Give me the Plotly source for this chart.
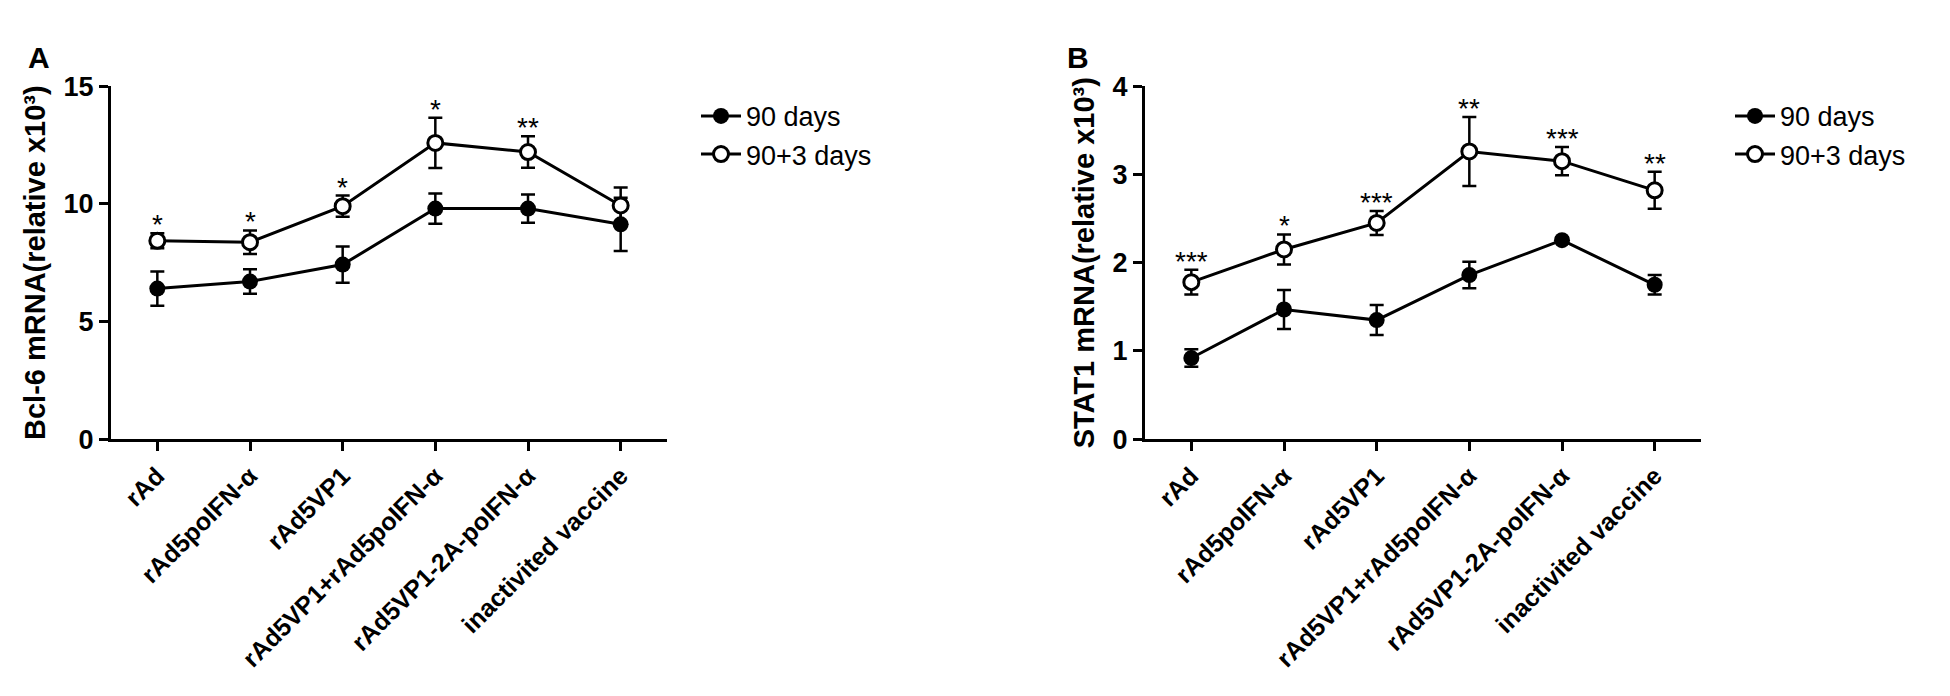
import plotly.graph_objects as go

groups = ["rAd", "rAd5poIFN-α", "rAd5VP1", "rAd5VP1+rAd5poIFN-α",
          "rAd5VP1-2A-poIFN-α", "inactivited vaccine"]

# panel A: Bcl-6
bcl6_90 = [6.4, 6.7, 7.42, 9.8, 9.8, 9.13]
bcl6_90_err = [0.73, 0.52, 0.77, 0.64, 0.6, 1.13]
bcl6_93 = [8.43, 8.37, 9.9, 12.59, 12.2, 9.93]
bcl6_93_err = [0.32, 0.5, 0.45, 1.07, 0.67, 0.76]
bcl6_stars = ["*", "*", "*", "*", "**", ""]

# panel B: STAT1
stat1_90 = [0.92, 1.47, 1.35, 1.86, 2.255, 1.75]
stat1_90_err = [0.1, 0.22, 0.17, 0.15, 0.03, 0.11]
stat1_93 = [1.78, 2.15, 2.45, 3.26, 3.15, 2.82]
stat1_93_err = [0.14, 0.17, 0.135, 0.39, 0.16, 0.21]
stat1_stars = ["***", "*", "***", "**", "***", "**"]

FONT = "Arial, Liberation Sans, sans-serif"
W, H = 1950, 696

fig = go.Figure()


def add_panel(xa, ya, leg, y90, e90, y93, e93):
    xs = list(range(len(groups)))
    fig.add_trace(go.Scatter(
        x=xs, y=y90, name="90 days", mode="lines+markers",
        xaxis=xa, yaxis=ya, legend=leg,
        line=dict(color="black", width=3),
        marker=dict(symbol="circle", size=16, color="black"),
        error_y=dict(type="data", array=e90, color="black", thickness=2.5, width=7),
    ))
    fig.add_trace(go.Scatter(
        x=xs, y=y93, name="90+3 days", mode="lines+markers",
        xaxis=xa, yaxis=ya, legend=leg,
        line=dict(color="black", width=3),
        marker=dict(symbol="circle", size=15, color="white",
                    line=dict(color="black", width=3)),
        error_y=dict(type="data", array=e93, color="black", thickness=2.5, width=7),
    ))


add_panel("x", "y", "legend", bcl6_90, bcl6_90_err, bcl6_93, bcl6_93_err)
add_panel("x2", "y2", "legend2", stat1_90, stat1_90_err, stat1_93, stat1_93_err)

# significance marks above the upper error bar
for xa, ya, vals, errs, stars in [("x", "y", bcl6_93, bcl6_93_err, bcl6_stars),
                                  ("x2", "y2", stat1_93, stat1_93_err, stat1_stars)]:
    for i, s in enumerate(stars):
        if s:
            fig.add_annotation(x=i, y=vals[i] + errs[i], xref=xa, yref=ya,
                               text=s, showarrow=False, yanchor="bottom",
                               yshift=-9, font=dict(size=28, color="black"))

xcommon = dict(
    range=[-0.5, 5.5], tickmode="array", tickvals=list(range(len(groups))),
    ticktext=groups, tickangle=-45, showline=True, linecolor="black",
    linewidth=3, ticks="outside", ticklen=9, tickwidth=3, tickcolor="black",
    showgrid=False, zeroline=False,
    tickfont=dict(family=FONT, size=25, color="black", weight="bold"),
)
ycommon = dict(
    showline=True, linecolor="black", linewidth=3, ticks="outside",
    ticklen=9, tickwidth=3, tickcolor="black", showgrid=False, zeroline=False,
    tickfont=dict(family=FONT, size=27, color="black", weight="bold"),
)

ydom = [1 - 435 / H, 1 - 66 / H]
fig.update_layout(
    width=W, height=H, margin=dict(l=0, r=0, t=0, b=0),
    plot_bgcolor="white", paper_bgcolor="white",
    font=dict(family=FONT, color="black"),
    xaxis=dict(domain=[103 / W, 659 / W], anchor="y", **xcommon),
    yaxis=dict(domain=ydom, anchor="x", range=[0, 15], tickvals=[0, 5, 10, 15],
               title=dict(text="Bcl-6 mRNA(relative x10³)", standoff=10,
                          font=dict(family=FONT, size=29, weight="bold")),
               **ycommon),
    xaxis2=dict(domain=[1137 / W, 1693 / W], anchor="y2", **xcommon),
    yaxis2=dict(domain=ydom, anchor="x2", range=[0, 4], tickvals=[0, 1, 2, 3, 4],
                title=dict(text="STAT1 mRNA(relative x10³)", standoff=10,
                           font=dict(family=FONT, size=29, weight="bold")),
                **ycommon),
    legend=dict(x=688 / W, y=1 - 72 / H, xanchor="left", yanchor="top",
                font=dict(family=FONT, size=27), itemwidth=40,
                bgcolor="rgba(0,0,0,0)"),
    legend2=dict(x=1722 / W, y=1 - 72 / H, xanchor="left", yanchor="top",
                 font=dict(family=FONT, size=27), itemwidth=40,
                 bgcolor="rgba(0,0,0,0)"),
    showlegend=True,
)

fig.add_annotation(x=18 / W, y=1 - 17 / H, xref="paper", yref="paper", text="A",
                   showarrow=False, font=dict(size=30, color="black", weight="bold"))
fig.add_annotation(x=1070 / W, y=1 - 17 / H, xref="paper", yref="paper", text="B",
                   showarrow=False, font=dict(size=30, color="black", weight="bold"))

fig.write_html("out.html")
